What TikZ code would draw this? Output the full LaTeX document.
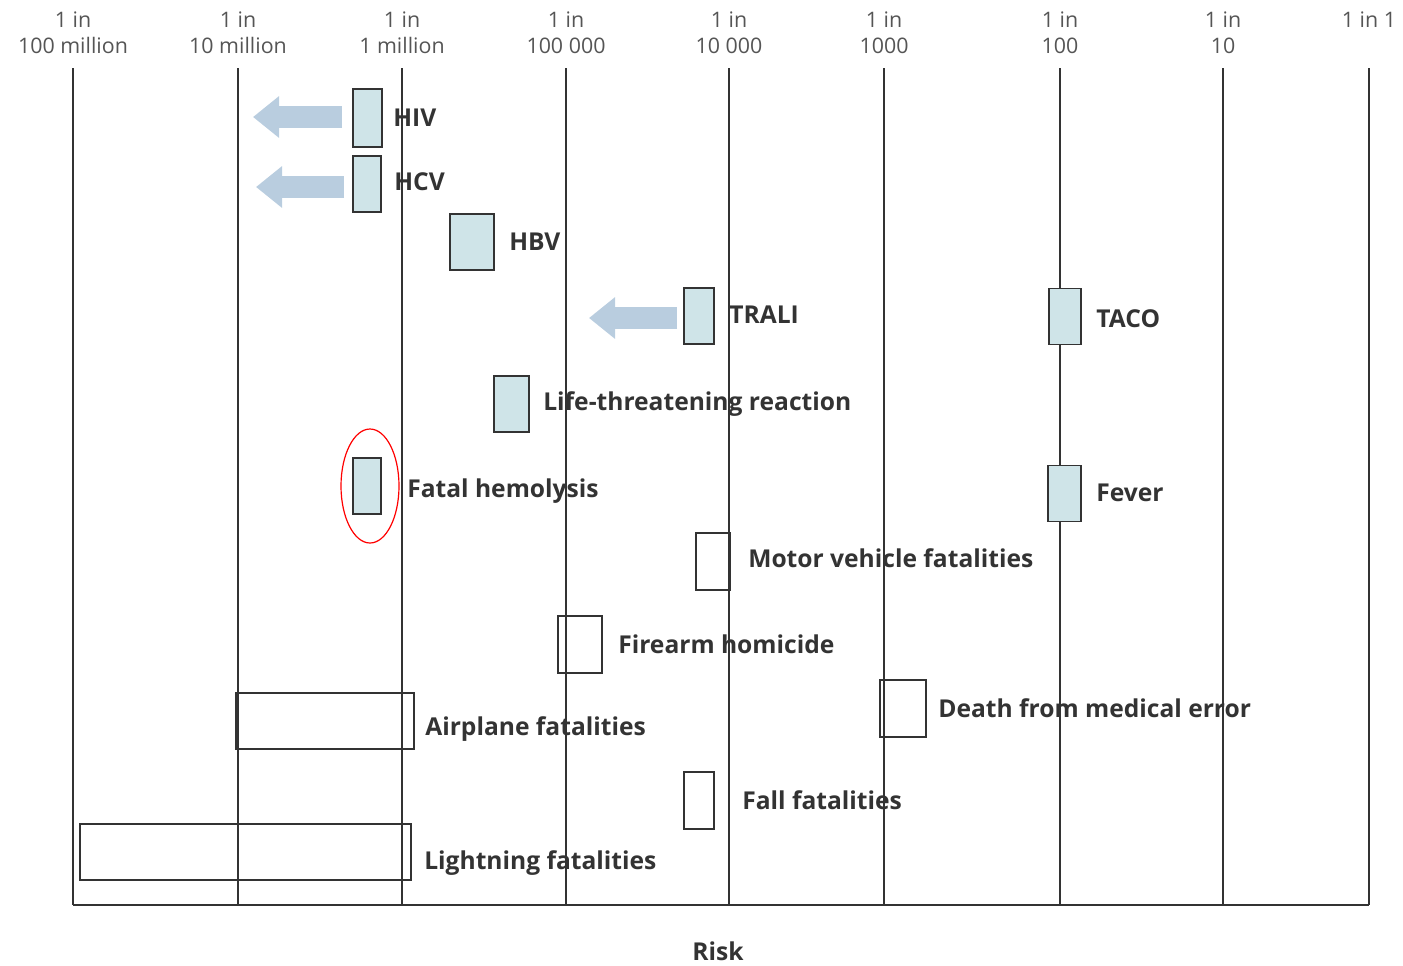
\documentclass[tikz,border=0pt]{standalone}
\usepackage{fontspec}
\setmainfont{Open Sans}
\newfontfamily\lblfont{Open Sans}
\usepackage{xcolor}
\usetikzlibrary{arrows.meta,positioning,shapes.geometric}

\definecolor{gridline}{HTML}{333333}
\definecolor{boxfill}{HTML}{CFE4E8}
\definecolor{arrowblue}{HTML}{B9CDDF}
\definecolor{lbltext}{HTML}{333333}
\definecolor{scaletext}{HTML}{555555}

\begin{document}
\begin{tikzpicture}[
  x=0.5pt, y=-0.5pt,
  grid/.style={draw=gridline, line width=1pt},
  riskbox/.style={draw=gridline, line width=0.9pt, inner sep=0pt, minimum height=28pt},
  bluebox/.style={riskbox, fill=boxfill},
  lbl/.style={inner sep=0pt, anchor=west, font=\lblfont\bfseries\fontsize{12.3}{14}\selectfont, text=lbltext},
  scale lbl/.style={align=center, inner sep=0pt, font=\fontsize{10.7}{13}\selectfont, text=scaletext},
  fatarrow/.style={draw=arrowblue, line width=11pt, -{Triangle[width=20pt, length=13pt]}}
]
\useasboundingbox (0,0) rectangle (1403,965);

% risk scale
\foreach \xx/\txt in {73/100 million, 238/10 million, 402/1 million, 566/100 000,
    729/10 000, 884/1000, 1060/100, 1223/10} {
  \draw[grid] (\xx,68) -- (\xx,905);
  \node[scale lbl] at (\xx,33) {1 in\\\txt};
}
\draw[grid] (1369,68) -- (1369,905);
\node[scale lbl] at (1369,20) {1 in 1};
\draw[grid] (73,905) -- (1369,905);
\node[lbl, anchor=center] (risk) at (718,951) {Risk};

% transfusion risks
\node[bluebox, minimum width=14.5pt, minimum height=29pt] (hiv) at (367.5,118) {};
\node[bluebox, minimum width=14pt] (hcv) at (367,184) {};
\node[bluebox, minimum width=22pt] (hbv) at (472,242) {};
\node[bluebox, minimum width=15pt] (trali) at (699,316) {};
\node[bluebox, minimum width=16pt] (taco) at (1065,316.5) {};
\node[bluebox, minimum width=17.5pt] (life) at (511.5,404) {};
\node[bluebox, minimum width=14pt] (fatal) at (367,486) {};
\node[bluebox, minimum width=16.5pt] (fever) at (1064.5,493.5) {};

\node[lbl, right=5pt of hiv] {HIV};
\node[lbl, right=6pt of hcv, yshift=1pt] {HCV};
\node[lbl, right=7pt of hbv] {HBV};
\node[lbl, right=7pt of trali, yshift=0.5pt] {TRALI};
\node[lbl, right=7pt of taco, yshift=-1pt] {TACO};
\node[lbl, right=6.5pt of life, yshift=0pt] {Life-threatening reaction};
\node[lbl, right=12.5pt of fatal, yshift=-2.5pt] {Fatal hemolysis};
\node[lbl, right=7pt of fever, yshift=0.5pt] {Fever};

\node[ellipse, draw=red, line width=0.6pt, inner sep=0pt, minimum width=29pt, minimum height=57pt] (ring) at (370,486) {};

% improving risks
\coordinate (hivtip) at (253,117);
\coordinate (hcvtip) at (256,187);
\coordinate (tralitip) at (589,318);
\draw[fatarrow] ([xshift=-5pt, yshift=0.5pt]hiv.west) -- (hivtip);
\draw[fatarrow] ([xshift=-4pt, yshift=-1.5pt]hcv.west) -- (hcvtip);
\draw[fatarrow] ([xshift=-3pt, yshift=-1pt]trali.west) -- (tralitip);

% everyday risks
\node[riskbox, minimum width=17pt, minimum height=28.5pt] (motor) at (713,561.5) {};
\node[riskbox, minimum width=22pt, minimum height=28.5pt] (firearm) at (580,644.5) {};
\node[riskbox, minimum width=89pt] (airplane) at (325,721) {};
\node[riskbox, minimum width=23pt, minimum height=28.5pt] (medical) at (903,708.5) {};
\node[riskbox, minimum width=15pt, minimum height=28.5pt] (fall) at (699,800.5) {};
\node[riskbox, minimum width=165.5pt] (lightning) at (245.5,852) {};

\node[lbl, right=8.5pt of motor, yshift=1.5pt] {Motor vehicle fatalities};
\node[lbl, right=7.5pt of firearm] {Firearm homicide};
\node[lbl, right=5pt of airplane, yshift=-4pt] {Airplane fatalities};
\node[lbl, right=5.5pt of medical] {Death from medical error};
\node[lbl, right=13.5pt of fall] {Fall fatalities};
\node[lbl, right=6pt of lightning, yshift=-5.5pt] {Lightning fatalities};
\end{tikzpicture}
\end{document}
